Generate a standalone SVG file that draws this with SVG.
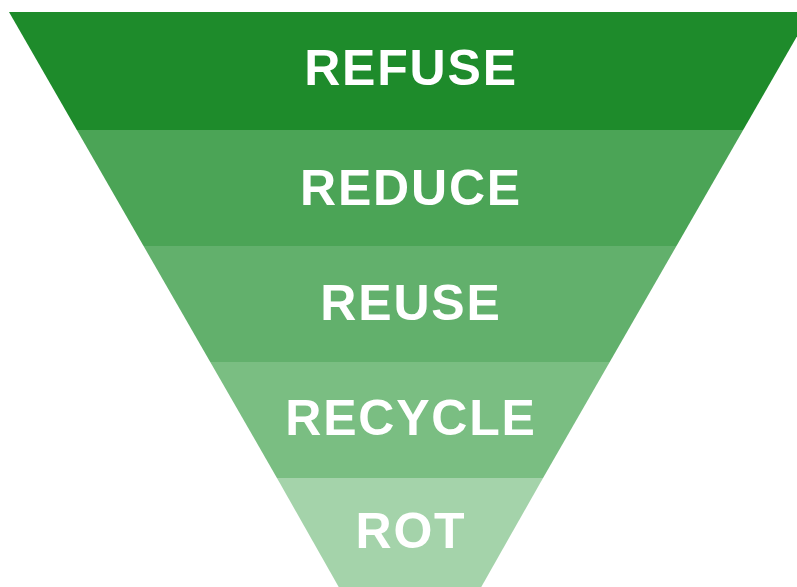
<svg xmlns="http://www.w3.org/2000/svg" width="797" height="587" viewBox="0 0 797 587">
<style>
.lbl{font-family:"Liberation Sans",Arial,sans-serif;font-weight:bold;font-size:50px;letter-spacing:1.8px;fill:#ffffff;text-anchor:middle}
</style>
<rect width="797" height="587" fill="#ffffff"/>
<g id="refuse">
<polygon points="9,12 811,12 743.15,130 76.85,130" fill="#1e8b2b"/>
<text class="lbl" x="411" y="85">REFUSE</text>
</g>
<g id="reduce">
<polygon points="76.85,130 743.15,130 676.45,246 143.55,246" fill="#4ba456"/>
<text class="lbl" x="411" y="205">REDUCE</text>
</g>
<g id="reuse">
<polygon points="143.55,246 676.45,246 609.75,362 210.25,362" fill="#62b06c"/>
<text class="lbl" x="411" y="320">REUSE</text>
</g>
<g id="recycle">
<polygon points="210.25,362 609.75,362 543.05,478 276.95,478" fill="#7abe82"/>
<text class="lbl" x="411" y="435">RECYCLE</text>
</g>
<g id="rot">
<polygon points="276.95,478 543.05,478 473.9,600 346.1,600" fill="#a4d3aa"/>
<text class="lbl" x="411" y="548">ROT</text>
</g>
<g id="connectors"/>
</svg>
